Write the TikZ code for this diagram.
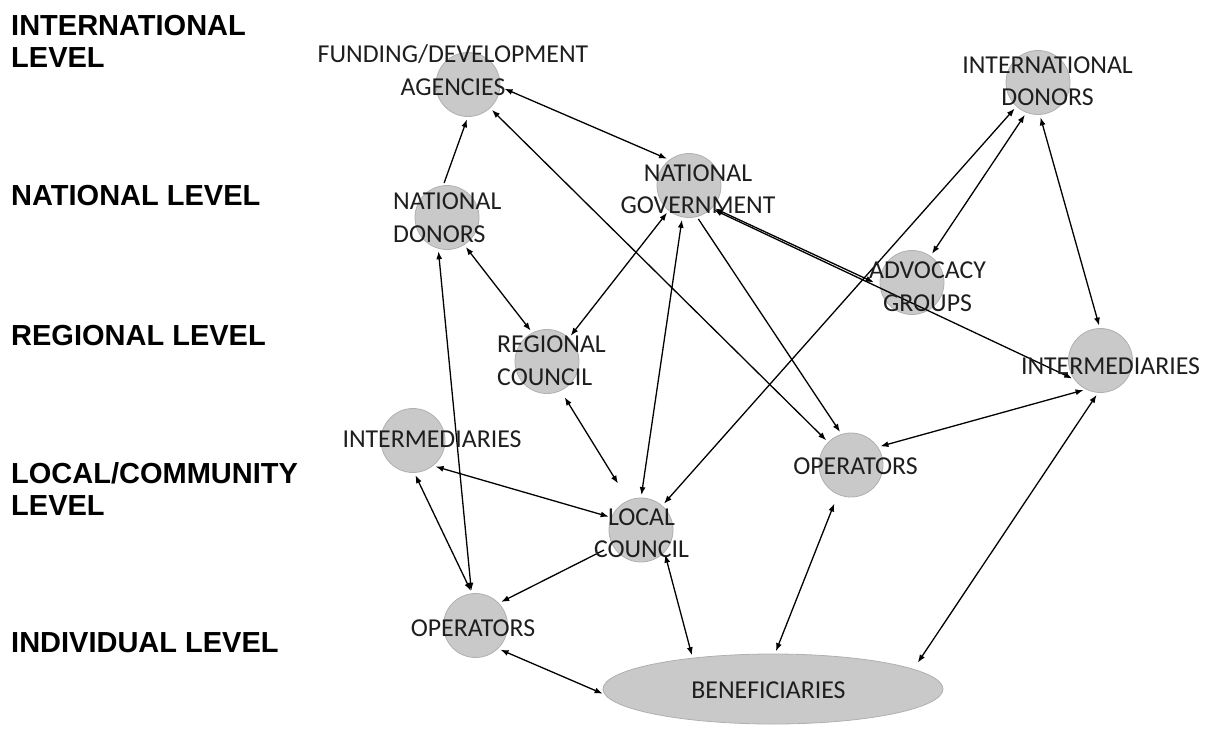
\documentclass[tikz,border=0pt]{standalone}
\usepackage{fontspec}
\setmainfont{Carlito}
\newfontfamily\levelfont{Liberation Sans}
\usetikzlibrary{arrows.meta,shapes.geometric}
\tikzset{>={Latex[length=8pt,width=6pt]}}
\definecolor{hubfill}{HTML}{C9C9C9}
\definecolor{hubline}{HTML}{B0B0B0}
\definecolor{ink}{HTML}{1E1E1E}
\tikzset{
    hub/.style={circle,draw=hubline,fill=hubfill,line width=0.8pt,
        minimum size=64pt,inner sep=0pt,outer sep=0pt},
    crowd/.style={ellipse,draw=hubline,fill=hubfill,line width=0.8pt,
        minimum width=340pt,minimum height=70pt,inner sep=0pt,outer sep=0pt},
    tag/.style={text=ink,inner sep=0pt,align=center,
        font=\fontsize{25.8}{32.5}\selectfont},
    tier/.style={anchor=west,inner sep=0pt,align=left,
        font=\levelfont\bfseries\fontsize{29}{32}\selectfont},
    link/.style={line width=1.3pt,shorten >=3pt,shorten <=3pt}
}

\begin{document}
\begin{tikzpicture}[x=1pt,y=-1pt]
            \useasboundingbox (0,0) rectangle (1205,729);
            \node[tier] (lv1) at (11,41)  {INTERNATIONAL\\LEVEL};
            \node[tier] (lv2) at (11,196) {NATIONAL LEVEL};
            \node[tier] (lv3) at (11,336) {REGIONAL LEVEL};
            \node[tier] (lv4) at (11,489) {LOCAL/COMMUNITY\\LEVEL};
            \node[tier] (lv5) at (11,643) {INDIVIDUAL LEVEL};
            \node[hub] (fund) at (468,84.5) {};
            \node[hub] (ndon) at (447,217.5) {};
            \node[hub] (gov)  at (689,185.5) {};
            \node[hub] (intd) at (1038,82.5) {};
            \node[hub] (adv)  at (912,282.5) {};
            \node[hub] (intr) at (1100.5,360.5) {};
            \node[hub] (reg)  at (547,361.5) {};
            \node[hub] (intl) at (413,440.5) {};
            \node[hub] (opr)  at (851,465) {};
            \node[hub] (loc)  at (641,530) {};
            \node[hub] (opl)  at (475.5,625.5) {};
            \node[crowd] (ben) at (773,689) {};
            \draw[link,->]  (ndon.97) -- (fund.270);
            \draw[link,<->,shorten <=5pt] (fund.-4) -- (gov.127);
            \draw[link,<->] (fund.-47) -- (opr.135);
            \draw[link,<->] (ndon.254) -- (opl.97);
            \draw[link,<->] (ndon.-58) -- (reg.117);
            \draw[link,<->] (gov.231) -- (reg.47);
            \draw[link,<->] (gov.258) -- (loc.90);
            \draw[link,->]  (gov.284) -- (opr.107);
            \draw[link,<->,shorten >=7pt] (gov.-43) -- (adv.185);
            \draw[link,<->] (gov.-46) -- (intr.217);
            \draw[link,<->] (intd.228) -- (loc.49);
            \draw[link,<->] (intd.249) -- (adv.55);
            \draw[link,<->] (intd.273) -- (intr.91);
            \draw[link,<->] (intr.244) -- (opr.34);
            \draw[link,<->,shorten >=8pt] (intr.266) -- (ben.8);
            \draw[link,<->,shorten <=10pt] (opr.246) -- (ben.87);
            \draw[link,<->] (loc.317) -- (ben.159);
            \draw[link,->,shorten <=10pt] (loc.209) -- (opl.44);
            \draw[link,<->] (intl.308) -- (loc.157);
            \draw[link,<->] (intl.272) -- (opl.96);
            \draw[link,<->] (opl.314) -- (ben.182);
            \draw[link,<->,shorten <=8pt,shorten >=20pt] (reg.295) -- (loc.113);
            \node[tag] (fund-t) at (453,70) {FUNDING/DEVELOPMENT\\AGENCIES};
            \node[tag,align=left,anchor=west] (ndon-t) at (393,217.5) {NATIONAL\\DONORS};
            \node[tag] (gov-t)  at (698,189) {NATIONAL\\GOVERNMENT};
            \node[tag] (intd-t) at (1047.5,81) {INTERNATIONAL\\DONORS};
            \node[tag] (adv-t)  at (927.5,286.5) {ADVOCACY\\GROUPS};
            \node[tag] (intr-t) at (1110.5,366) {INTERMEDIARIES};
            \node[tag,align=left,anchor=west] (reg-t) at (497,360.5) {REGIONAL\\COUNCIL};
            \node[tag] (intl-t) at (432,439) {INTERMEDIARIES};
            \node[tag] (opr-t)  at (855.5,466) {OPERATORS};
            \node[tag] (loc-t)  at (641.5,533) {LOCAL\\COUNCIL};
            \node[tag] (opl-t)  at (473,628) {OPERATORS};
            \node[tag] (ben-t)  at (768.5,690) {BENEFICIARIES};
        \end{tikzpicture}
\end{document}
